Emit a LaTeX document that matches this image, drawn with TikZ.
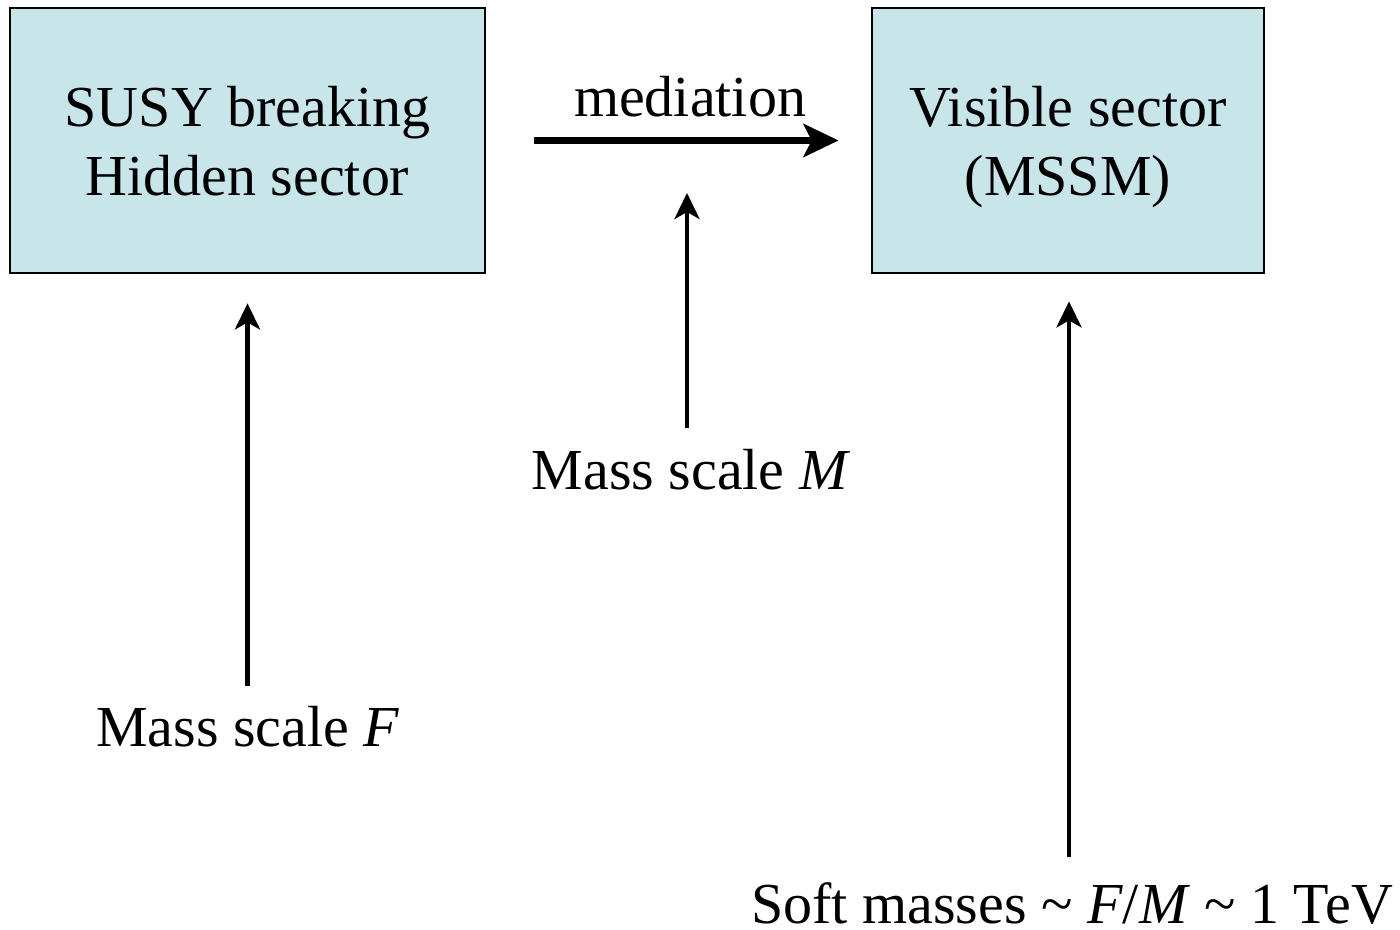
\documentclass[tikz,border=0pt]{standalone}
\usepackage{fontspec}
\setmainfont{Liberation Serif}
\usetikzlibrary{arrows.meta,shapes}
\definecolor{boxfill}{RGB}{200,230,234}

\begin{document}
\begin{tikzpicture}[node distance=1cm, auto, font=\fontsize{16.5}{19.5}\selectfont]
                \tikzstyle{sector}=[draw, line width=0.8pt, fill=boxfill, align=center, inner sep=0pt]
                \tikzstyle{scalearrow}=[line width=1.3pt, -{Stealth[length=0.26cm, width=0.25cm, inset=0.07cm]}]
                \tikzstyle{medarrow}=[line width=2.2pt, -{Stealth[length=0.35cm, width=0.33cm, inset=0.08cm]}]
                \useasboundingbox (0,0) rectangle (14,9.3);
                
                \node[sector, minimum width=4.75cm, minimum height=2.65cm] (hidden) at (2.475,7.895)
                        {\rule{0pt}{15.7pt}SUSY breaking\\Hidden sector\rule[-4pt]{0pt}{4pt}};
                \node[sector, minimum width=3.92cm, minimum height=2.65cm] (visible) at (10.68,7.895)
                        {\rule{0pt}{15.7pt}Visible sector\\(MSSM)\rule[-4pt]{0pt}{4pt}};
                
                \coordinate (Ftail) at (2.475,2.44);
                \coordinate (Mtail) at (6.87,5.02);
                \coordinate (Mhead) at (6.87,7.37);
                \coordinate (Stail) at (10.69,0.73);
                
                \draw[medarrow, shorten <=0.48cm, shorten >=0.32cm] (hidden.east) -- (visible.west);
                \draw[scalearrow, shorten >=0.29cm] (Ftail) -- (hidden.south);
                \draw[scalearrow] (Mtail) -- (Mhead);
                \draw[scalearrow, shorten >=0.27cm] (Stail) -- (visible.south -| Stail);
                
                \node[anchor=base] (med) at (6.9,8.13) {mediation};
                \node[anchor=base] (Flabel) at (2.48,1.83) {Mass scale \textit{F}};
                \node[anchor=base] (Mlabel) at (6.91,4.40) {Mass scale \textit{M}};
                \node[anchor=base] (soft) at (10.72,0.06) {Soft masses \textasciitilde{} \textit{F}/\textit{M} \textasciitilde{} 1 TeV};
\end{tikzpicture}
\end{document}
